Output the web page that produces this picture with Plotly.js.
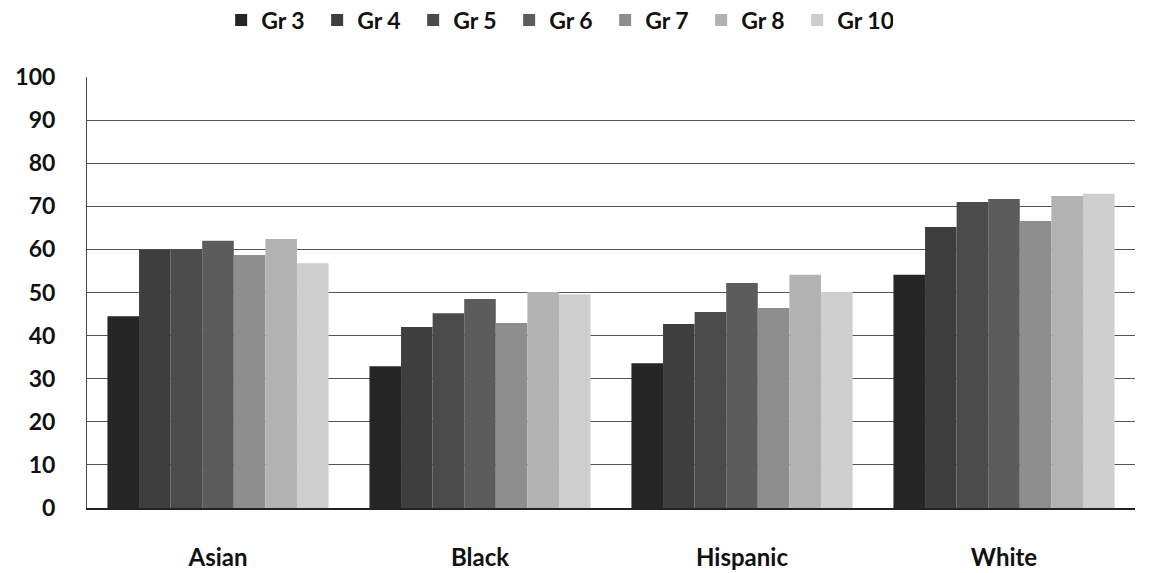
<!DOCTYPE html>
<html>
<head>
<meta charset="utf-8">
<script src="https://cdn.plot.ly/plotly-3.0.1.min.js"></script>
<style>html,body{margin:0;padding:0;background:#fff;}#chart{width:1151px;height:573px;}</style>
</head>
<body>
<div id="chart"></div>
<script>
const categories = ["Asian", "Black", "Hispanic", "White"];
const seriesNames = ["Gr 3", "Gr 4", "Gr 5", "Gr 6", "Gr 7", "Gr 8", "Gr 10"];
const gr3  = [44.5, 32.9, 33.6, 54.1];
const gr4  = [59.9, 42.0, 42.7, 65.2];
const gr5  = [59.9, 45.2, 45.5, 71.0];
const gr6  = [62.0, 48.5, 52.2, 71.7];
const gr7  = [58.7, 42.9, 46.4, 66.6];
const gr8  = [62.4, 50.1, 54.1, 72.4];
const gr10 = [56.8, 49.6, 50.1, 72.9];
const seriesValues = [gr3, gr4, gr5, gr6, gr7, gr8, gr10];
const colors = ["#262626", "#3e3e3e", "#4b4b4b", "#5c5c5c", "#8e8e8e", "#b2b2b2", "#cecece"];
const yTicks = [0, 10, 20, 30, 40, 50, 60, 70, 80, 90, 100];

const traces = seriesNames.map((name, i) => ({
  type: "bar",
  name: name,
  x: categories,
  y: seriesValues[i],
  marker: {color: colors[i], line: {width: 0}}
}));

const FONT = "Lato, 'Open Sans', sans-serif";

const layout = {
  width: 1151,
  height: 573,
  margin: {l: 87, r: 16, t: 77, b: 65},
  paper_bgcolor: "#fff",
  plot_bgcolor: "#fff",
  barmode: "group",
  bargap: 0.156,
  bargroupgap: 0,
  font: {family: FONT, color: "#111"},
  showlegend: true,
  legend: {
    orientation: "h",
    xref: "paper", yref: "container",
    x: 0.128, xanchor: "left",
    y: 0.965, yanchor: "middle",
    font: {size: 23, family: FONT, weight: "bold", color: "#111"},
    itemwidth: 30,
    entrywidth: 51,
    entrywidthmode: "pixels",
    traceorder: "normal",
    bgcolor: "rgba(0,0,0,0)"
  },
  xaxis: {
    type: "category",
    showline: true, linecolor: "#222", linewidth: 1.5,
    ticks: "",
    ticklabelstandoff: 28,
    tickfont: {size: 24, family: FONT, weight: "bold", color: "#111"},
    showgrid: false,
    zeroline: false,
    automargin: false
  },
  yaxis: {
    range: [0, 100],
    tickvals: yTicks,
    showline: true, linecolor: "#444", linewidth: 1,
    showgrid: true, gridcolor: "#555", gridwidth: 1,
    ticks: "",
    ticklabelstandoff: 26,
    tickfont: {size: 23, family: FONT, weight: "bold", color: "#111"},
    zeroline: false,
    automargin: false
  }
};

Plotly.newPlot("chart", traces, layout, {displayModeBar: false, staticPlot: true});
</script>
</body>
</html>
